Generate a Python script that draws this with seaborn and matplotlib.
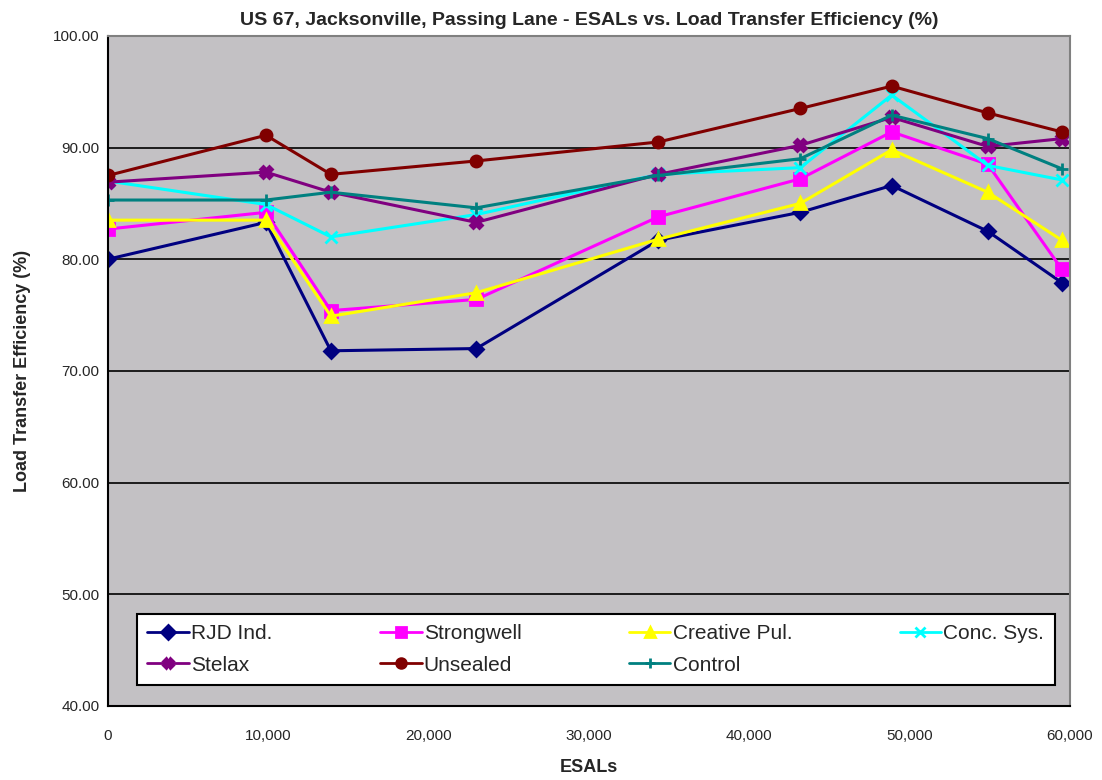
import pandas as pd
import matplotlib.pyplot as plt
import matplotlib.ticker as mticker
import seaborn as sns

# ESAL readings (x) and load transfer efficiency per sealant (%)
esals = [0, 9850, 13900, 22970, 34330, 43180, 48880, 54870, 59490]
rjd = [80.0, 83.3, 71.8, 72.0, 81.7, 84.2, 86.6, 82.5, 77.9]
strongwell = [82.7, 84.2, 75.4, 76.4, 83.8, 87.2, 91.4, 88.5, 79.1]
creative = [83.5, 83.5, 74.9, 77.0, 81.8, 85.0, 89.8, 86.0, 81.7]
conc_sys = [87.0, 84.9, 82.0, 84.0, 87.6, 88.2, 94.7, 88.4, 87.1]
stelax = [86.9, 87.8, 86.0, 83.3, 87.6, 90.2, 92.7, 90.1, 90.8]
unsealed = [87.5, 91.1, 87.6, 88.8, 90.5, 93.5, 95.5, 93.1, 91.4]
control = [85.3, 85.3, 86.0, 84.6, 87.5, 89.0, 92.9, 90.8, 88.1]

series = {
    'RJD Ind.': rjd,
    'Strongwell': strongwell,
    'Creative Pul.': creative,
    'Conc. Sys.': conc_sys,
    'Stelax': stelax,
    'Unsealed': unsealed,
    'Control': control,
}
colors = ['#000080', '#FF00FF', '#FFFF00', '#00FFFF', '#800080', '#800000', '#008080']
markers = ['D', 's', '^', 'x', 'X', 'o', '+']
msizes = [7, 8, 8, 8, 8, 8, 9]

sns.set_style("white")
plt.rcParams['font.family'] = ['Liberation Sans', 'DejaVu Sans']

fig = plt.figure(figsize=(11.02, 7.80), dpi=100)
ax = fig.add_axes([0.098, 0.095, 0.873, 0.859])
ax.set_facecolor('#C3C1C4')

for (name, vals), c, m, ms in zip(series.items(), colors, markers, msizes):
    df = pd.DataFrame({'ESALs': esals, 'LTE': vals})
    sns.lineplot(data=df, x='ESALs', y='LTE', color=c, marker=m, linewidth=2.2,
                 markersize=ms, markeredgewidth=2, markeredgecolor=c,
                 markerfacecolor=c, ax=ax, label=name)

ax.set_xlim(0, 60000)
ax.set_ylim(40, 100)
ax.set_yticks(range(40, 101, 10))
ax.set_xticks(range(0, 60001, 10000))
ax.yaxis.set_major_formatter(mticker.FuncFormatter(lambda v, p: f'{v:.2f}'))
ax.xaxis.set_major_formatter(mticker.FuncFormatter(lambda v, p: f'{int(v):,}'))
ax.yaxis.grid(True, color='black', linewidth=1.2)
ax.set_axisbelow(True)
ax.tick_params(axis='both', labelsize=11, length=5, direction='inout', width=1.2)
ax.tick_params(axis='x', pad=14)

for side in ['left', 'bottom']:
    ax.spines[side].set_color('black')
    ax.spines[side].set_linewidth(1.5)
for side in ['top', 'right']:
    ax.spines[side].set_color('#808080')
    ax.spines[side].set_linewidth(1.5)

ax.set_xlabel('ESALs', fontsize=13, fontweight='bold', labelpad=12)
ax.set_ylabel('Load Transfer Efficiency (%)', fontsize=13, fontweight='bold', labelpad=16)
ax.set_title('US 67, Jacksonville, Passing Lane - ESALs vs. Load Transfer Efficiency (%)',
             fontsize=14, fontweight='bold', pad=8)

# legend reads row by row in the reference; matplotlib fills by column
names = list(series.keys())
order = [0, 4, 1, 5, 2, 6, 3]
handles = [plt.Line2D([], [], color=colors[i], marker=markers[i], markersize=7,
                      linewidth=2, markeredgewidth=2, markerfacecolor=colors[i],
                      markeredgecolor=colors[i]) for i in order]
leg = ax.legend(handles, [names[i] for i in order], ncol=4, loc='lower left',
                bbox_to_anchor=(0.03, 0.031, 0.954, 0.112), mode='expand',
                fontsize=15, frameon=True, fancybox=False, edgecolor='black',
                facecolor='white', handlelength=2, handletextpad=0.1,
                borderpad=0.5, labelspacing=0.6, borderaxespad=0)
leg.get_frame().set_linewidth(1.5)
leg.get_frame().set_alpha(1)

fig.savefig('out.png', dpi=100)
